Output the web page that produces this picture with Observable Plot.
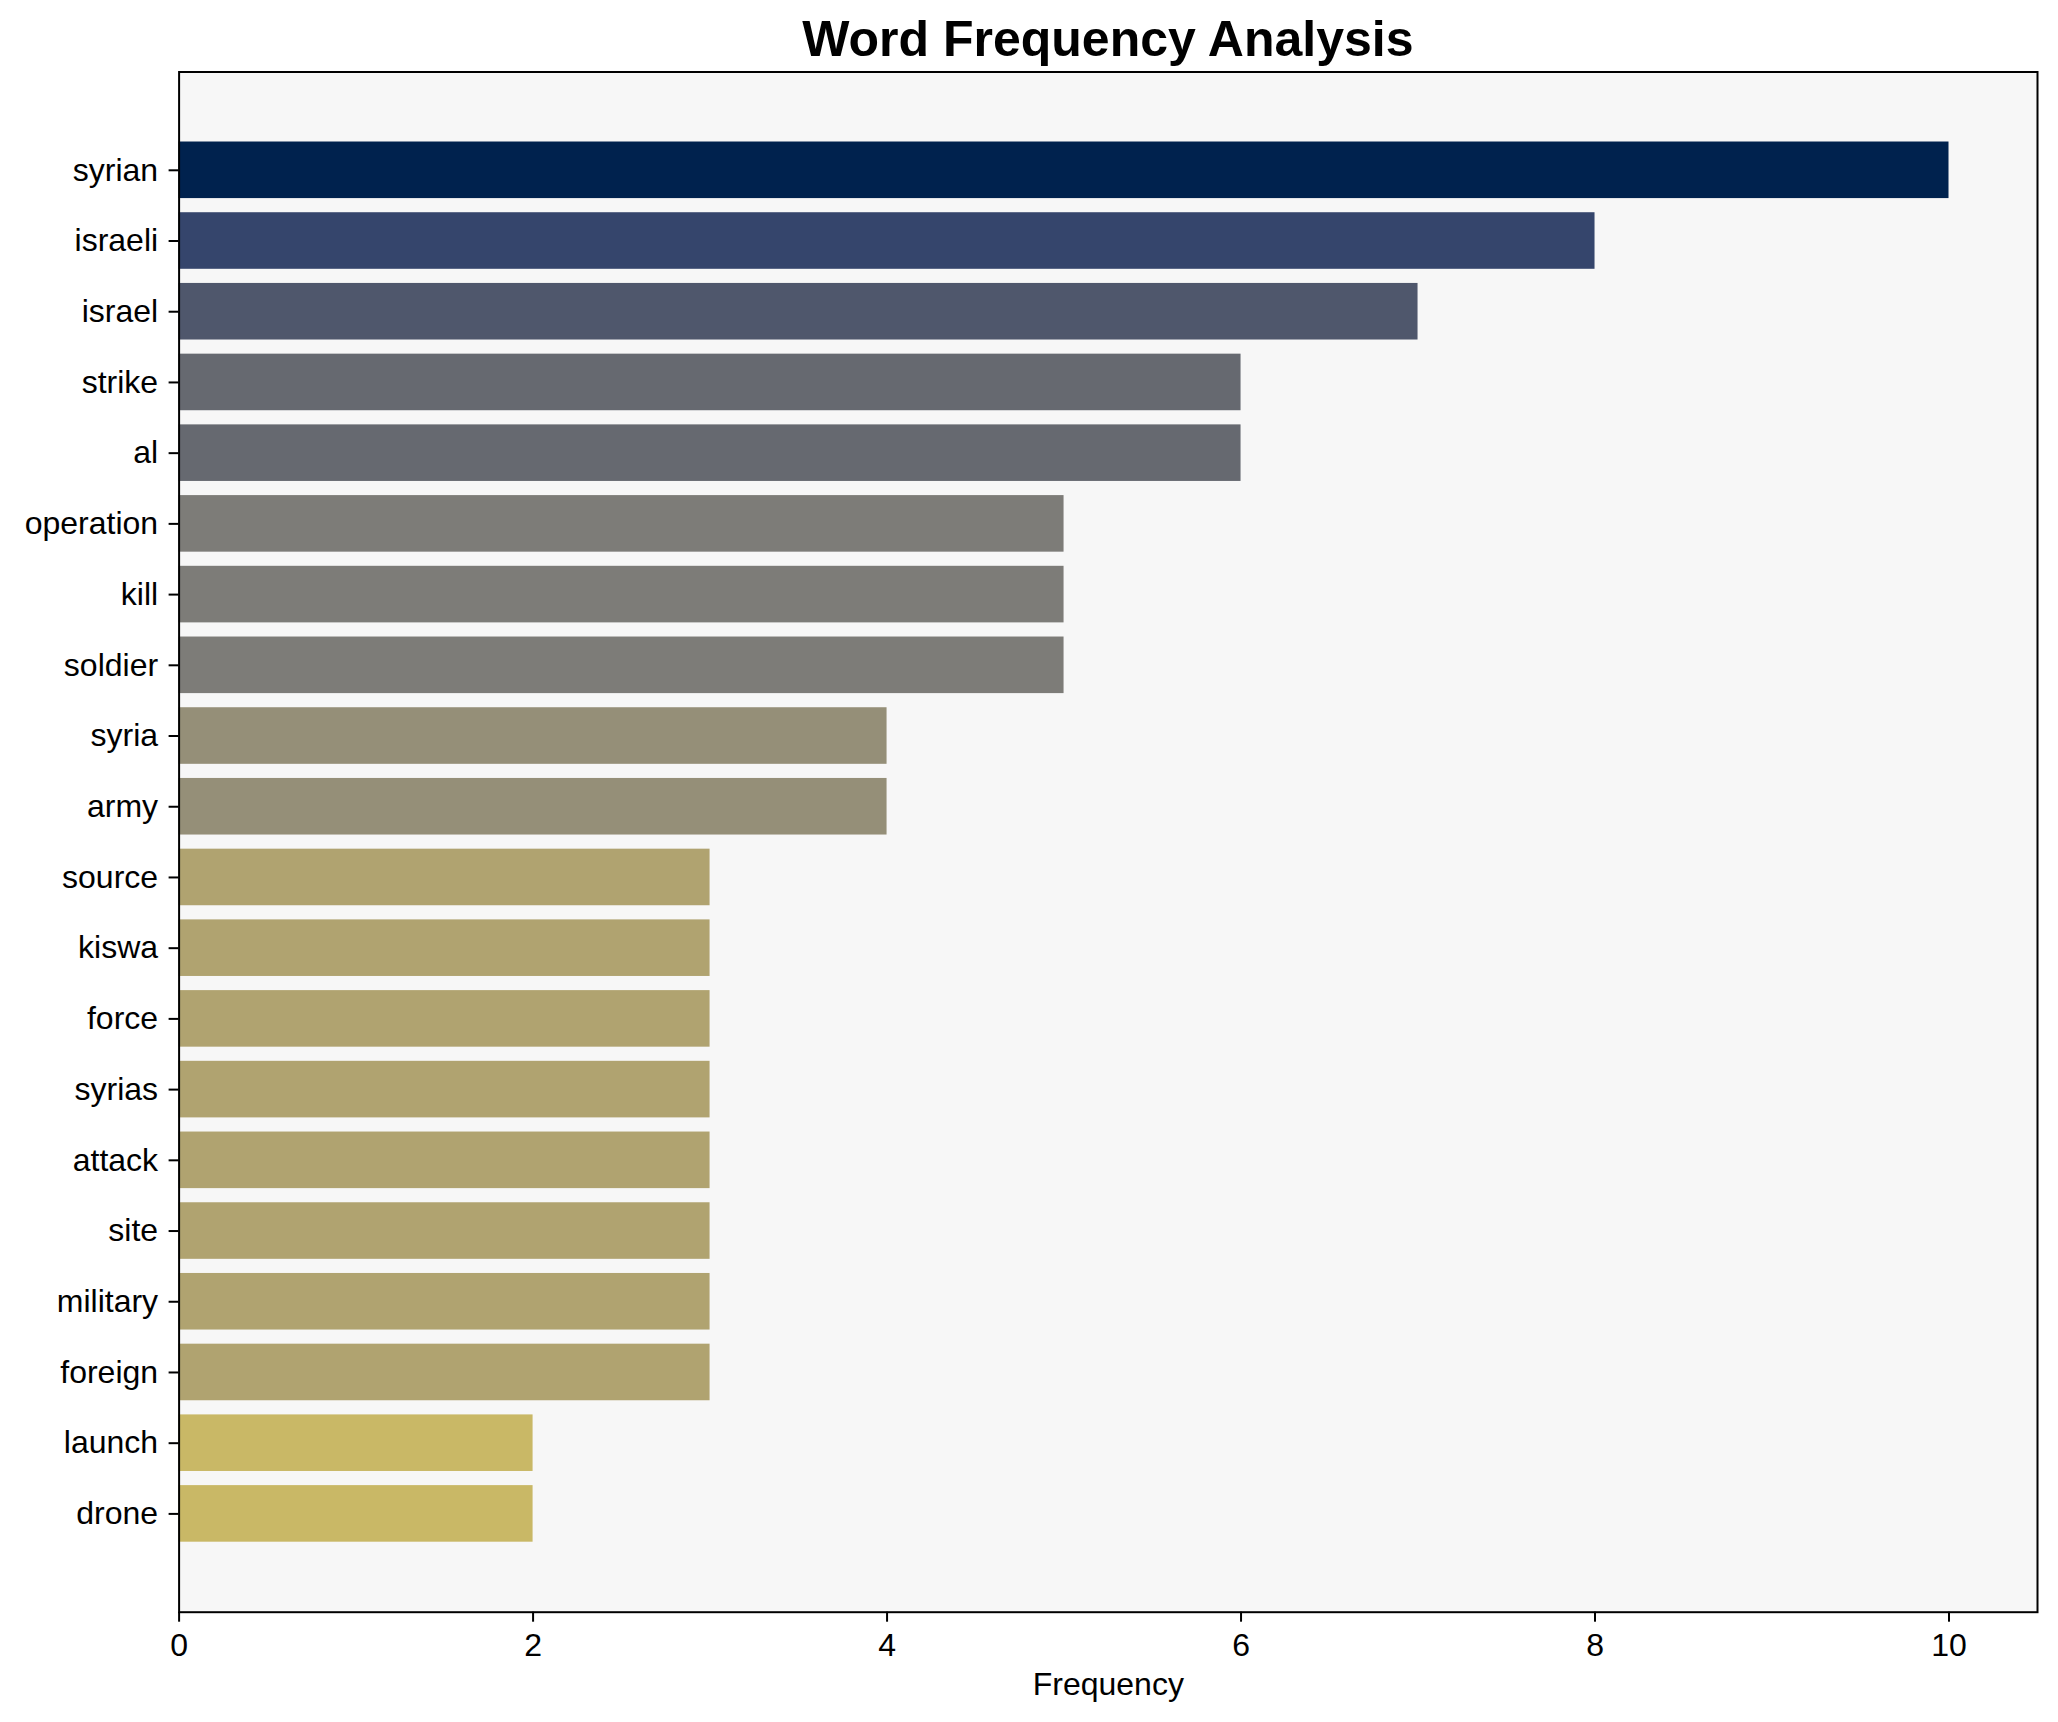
<!DOCTYPE html>
<html>
<head>
<meta charset="utf-8">
<script src="https://cdn.jsdelivr.net/npm/d3@7"></script>
<script src="https://cdn.jsdelivr.net/npm/@observablehq/plot@0.6"></script>
<style>
  html, body { margin: 0; padding: 0; background: #ffffff; }
  #wrap { position: relative; width: 2058px; height: 1722px; font-family: "Liberation Sans", Arial, sans-serif; }
  #title { position: absolute; top: 13.7px; left: 178.6px; width: 1858.5px; text-align: center;
           font-size: 50px; line-height: 50px; font-weight: bold; color: #000; }
</style>
</head>
<body>
<div id="wrap">
  <div id="title">Word Frequency Analysis</div>
  <div id="chart"></div>
</div>
<script>
const words = ["syrian","israeli","israel","strike","al","operation","kill","soldier","syria","army",
               "source","kiswa","force","syrias","attack","site","military","foreign","launch","drone"];
const counts = [10, 8, 7, 6, 6, 5, 5, 5, 4, 4, 3, 3, 3, 3, 3, 3, 3, 3, 2, 2];
const xTicks = [0, 2, 4, 6, 8, 10];

const data = words.map((w, i) => ({word: w, count: counts[i]}));

const chart = Plot.plot({
  width: 2058,
  height: 1722,
  marginLeft: 178.6,
  marginRight: 21,
  marginTop: 71.5,
  marginBottom: 110.3,
  style: {fontFamily: '"Liberation Sans", Arial, sans-serif', fontSize: "32px", background: "#ffffff", color: "#000"},
  x: {domain: [0, 10.5]},
  y: {domain: words, paddingInner: 0.2, paddingOuter: 0.99, round: false},
  color: {type: "linear", domain: [2, 3, 4, 5, 6, 7, 8, 10],
          range: ["#c9b866", "#b0a370", "#958f78", "#7d7c78", "#666970", "#4f576c", "#35456c", "#00224e"]},
  marks: [
    Plot.frame({fill: "#f7f7f7"}),
    Plot.barX(data, {x: "count", y: "word", fill: "count"}),
    Plot.axisY({tickSize: 10, tickPadding: 11, strokeWidth: 2, label: null, fontSize: 32}),
    Plot.axisX({ticks: xTicks, tickSize: 10, tickPadding: 11, strokeWidth: 2, label: "Frequency",
                labelAnchor: "center", labelArrow: "none", labelOffset: 83, fontSize: 32, tickFormat: d => String(d)}),
    Plot.frame({stroke: "#000", strokeWidth: 2})
  ]
});
document.getElementById("chart").appendChild(chart);
</script>
</body>
</html>
